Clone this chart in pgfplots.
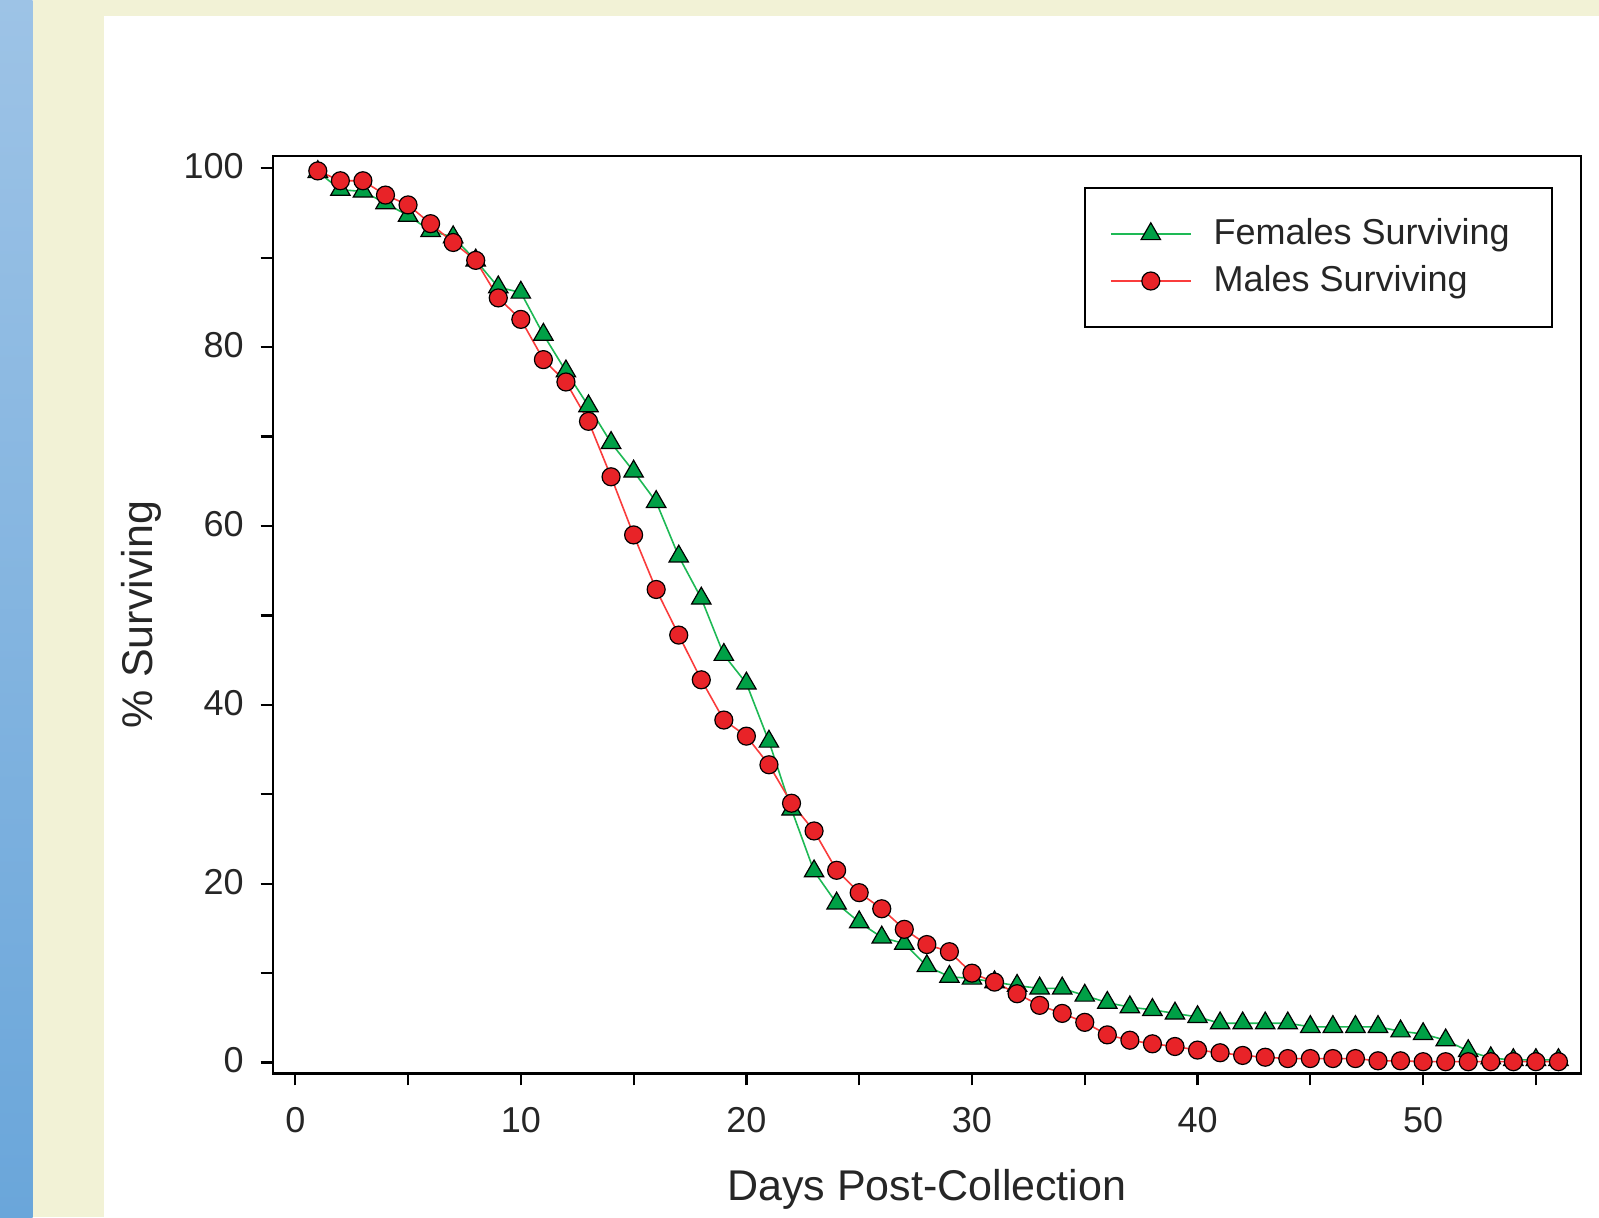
\documentclass[border=0pt]{standalone}
\usepackage{pgfplots}
\usepackage{pgfplotstable}
\pgfplotsset{compat=1.18}
\usepackage{fontspec}
\setmainfont{Liberation Sans}
\definecolor{bluetop}{RGB}{157,195,230}
\definecolor{bluebot}{RGB}{106,166,218}
\definecolor{cream}{RGB}{242,242,214}
\definecolor{fgreen}{RGB}{0,160,70}
\definecolor{lgreen}{RGB}{30,185,85}
\definecolor{fred}{RGB}{232,35,40}
\definecolor{lred}{RGB}{250,60,60}
\pgfplotstableread{
day female male
1 99.6 99.7
2 97.6 98.6
3 97.4 98.6
4 96.1 97.0
5 94.7 95.9
6 93.0 93.8
7 92.3 91.7
8 89.7 89.7
9 86.7 85.5
10 86.1 83.1
11 81.4 78.6
12 77.3 76.1
13 73.4 71.7
14 69.3 65.5
15 66.1 59.0
16 62.7 52.9
17 56.6 47.8
18 51.9 42.8
19 45.6 38.3
20 42.4 36.5
21 35.9 33.3
22 28.3 29.0
23 21.4 25.9
24 17.8 21.5
25 15.7 19.0
26 14.0 17.2
27 13.3 14.9
28 10.8 13.2
29 9.6 12.4
30 9.4 10.0
31 9.0 9.0
32 8.6 7.7
33 8.3 6.4
34 8.3 5.5
35 7.5 4.5
36 6.7 3.1
37 6.2 2.5
38 5.9 2.1
39 5.5 1.8
40 5.1 1.4
41 4.4 1.1
42 4.4 0.8
43 4.4 0.6
44 4.4 0.45
45 4.0 0.45
46 4.0 0.45
47 4.0 0.45
48 4.0 0.2
49 3.5 0.2
50 3.2 0.1
51 2.5 0.1
52 1.3 0.1
53 0.5 0.1
54 0.3 0.1
55 0.3 0.1
56 0.3 0.1
}\survtable
\begin{document}
\begin{tikzpicture}
\useasboundingbox (0pt,0pt) rectangle (799.5pt,-608.5pt);
\fill[white] (0pt,0pt) rectangle (799.5pt,-608.5pt);
\shade[top color=bluetop,bottom color=bluebot] (0pt,0pt) rectangle (16.35pt,-608.5pt);
\fill[cream] (16.35pt,0pt) rectangle (52pt,-608.5pt);
\fill[cream] (16.35pt,0pt) rectangle (799.5pt,-7.85pt);
\begin{axis}[
  at={(136.35pt,-536.65pt)}, anchor=south west,
  scale only axis, width=654.15pt, height=458.8pt,
  xmin=-1, xmax=57, ymin=-1.2, ymax=101.4,
  xtick={0,10,...,50}, minor xtick={5,15,...,55},
  ytick={0,20,...,100}, minor ytick={10,30,...,90},
  xtick pos=bottom, ytick pos=left,
  tick align=outside,
  major tick length=6pt, minor tick length=6pt,
  every tick/.style={black, line width=1.1pt},
  axis line style={black, line width=1.2pt},
  /pgf/number format/assume math mode=true,
  ticklabel style={font=\fontsize{18}{21.6}\selectfont, text=black!85},
  xticklabel style={yshift=-7.5pt},
  yticklabel style={xshift=-5pt, yshift=1pt},
  xlabel={Days Post-Collection},
  ylabel={\% Surviving},
  label style={font=\fontsize{21.5}{25}\selectfont, text=black!85},
  xlabel style={at={(axis description cs:0.5,-0.127)}, anchor=center},
  ylabel style={at={(axis description cs:-0.1,0.5)}, anchor=center},
  legend cell align=left,
  legend style={at={(0.9786,0.9659)}, anchor=north east, draw=black, line width=1pt, fill=white,
    font=\fontsize{18}{21.6}\selectfont, text=black!85,
    inner xsep=12.35pt, inner ysep=13pt, row sep=3.5pt,
    nodes={inner sep=0pt, text height=15pt, text depth=5pt}},
  legend image code/.code={
    \draw[mark repeat=2, mark phase=2, #1] plot coordinates {(0pt,0pt) (20pt,0pt) (40pt,0pt)};
    \path (51pt,0pt);
  },
]
\addplot[color=lgreen, line width=0.8pt, mark=triangle*, mark size=5.6pt,
  mark options={fill=fgreen, draw=black, line width=0.6pt}]
  table[x=day, y=female] {\survtable};
\addlegendentry{Females Surviving\hspace*{8.8pt}}
\addplot[color=lred, line width=0.8pt, mark=*, mark size=4.5pt,
  mark options={fill=fred, draw=black, line width=0.6pt}]
  table[x=day, y=male] {\survtable};
\addlegendentry{Males Surviving}
\end{axis}
\end{tikzpicture}
\end{document}
